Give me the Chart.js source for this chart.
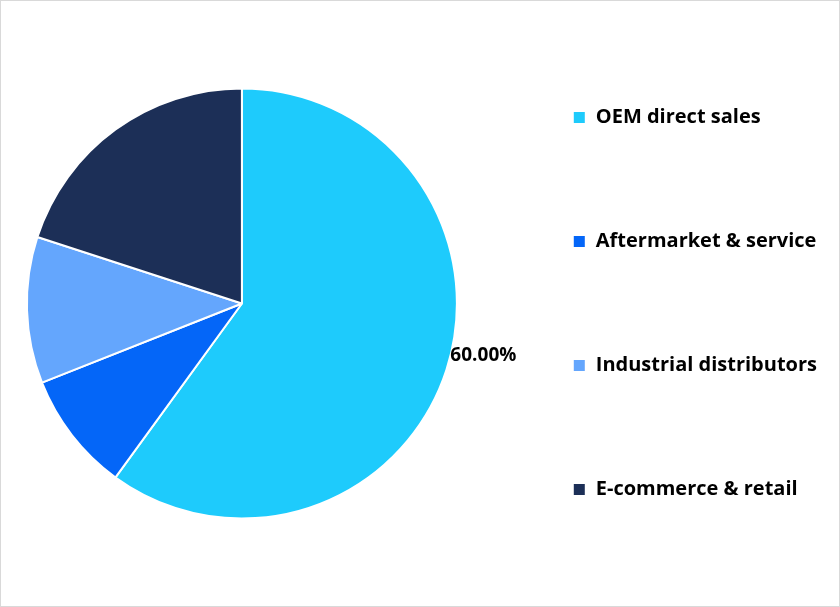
<!DOCTYPE html>
<html><head><meta charset="utf-8">
<script src="https://cdn.jsdelivr.net/npm/chart.js@4"></script>
<style>html,body{margin:0;padding:0;background:#fff}#w{position:absolute;left:0;top:0;width:838px;height:605px;border:1px solid #d9d9d9}</style>
</head><body><div id="w"><canvas id="c"></canvas></div>
<script>
const categories=["OEM direct sales","Aftermarket & service","Industrial distributors","E-commerce & retail"];
const values=[60,9,11,20];
const colors=["#1ecbfc","#0466f8","#64a6fd","#1c2f57"];
const labelPlugin={id:'lbl',afterDatasetsDraw(ch){
  const arc=ch.getDatasetMeta(0).data[0];const ctx=ch.ctx;
  const a=(arc.startAngle+arc.endAngle)/2;const r=arc.outerRadius;
  const x=arc.x+Math.cos(a)*r+4, y=arc.y+Math.sin(a)*r-14;
  ctx.save();ctx.font='bold 19px "Open Sans"';ctx.fillStyle='#000';ctx.textAlign='left';ctx.textBaseline='middle';
  ctx.fillText(values[0].toFixed(2)+'%',x,y);ctx.restore();}};
new Chart(document.getElementById('c'),{type:'pie',
 data:{labels:categories,datasets:[{data:values,backgroundColor:colors,borderColor:'#fff',borderWidth:2,radius:215}]},
 options:{responsive:true,maintainAspectRatio:false,animation:false,
  layout:{padding:{left:14,right:12,top:0,bottom:0}},
  plugins:{tooltip:{enabled:false},legend:{position:'right',
   labels:{boxWidth:13,boxHeight:13,padding:104,color:'#000',font:{family:'Open Sans',size:20,weight:'bold'}}}}},
 plugins:[labelPlugin]});
</script></body></html>
